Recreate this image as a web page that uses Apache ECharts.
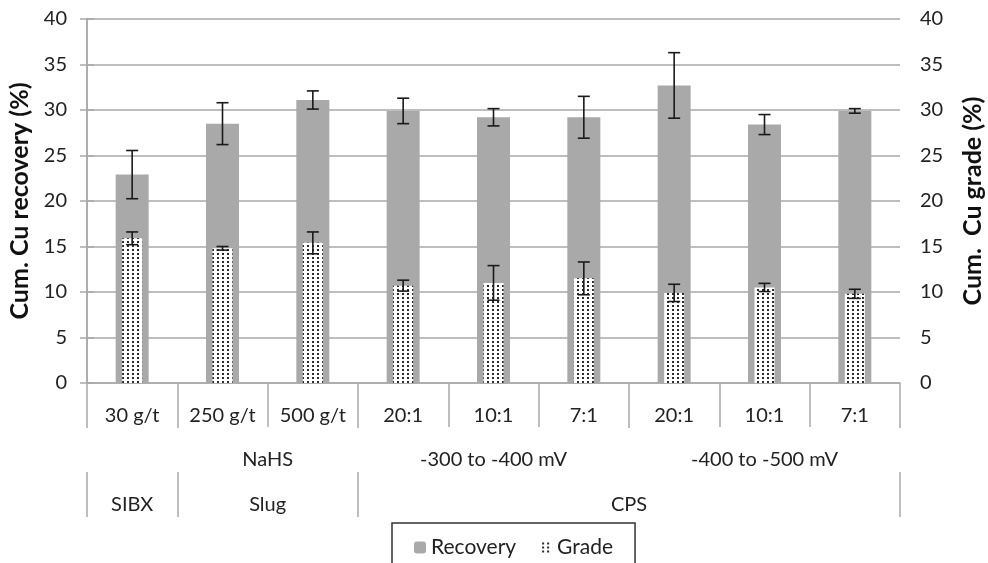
<!DOCTYPE html>
<html lang="en">
<head>
<meta charset="UTF-8">
<title>Cum. Cu recovery and grade</title>
<script src="https://cdn.jsdelivr.net/npm/echarts@6/dist/echarts.min.js"></script>
<style>
    html, body { margin: 0; padding: 0; background: #fff; }
    #main { width: 988px; height: 563px; }
</style>
</head>
<body>
<div id="main"></div>
<script>
    // data
    var categories = ['30 g/t', '250 g/t', '500 g/t', '20:1', '10:1', '7:1', '20:1', '10:1', '7:1'];
    var recovery = [22.9, 28.5, 31.1, 29.9, 29.2, 29.2, 32.7, 28.4, 29.9];
    var recoveryErr = [2.65, 2.3, 1.0, 1.4, 0.95, 2.3, 3.6, 1.1, 0.25];
    var grade = [15.9, 14.8, 15.4, 10.7, 11.0, 11.5, 9.9, 10.5, 9.8];
    var gradeErr = [0.7, 0.2, 1.2, 0.6, 1.9, 1.8, 0.95, 0.45, 0.5];
    // label rows under the categories: [label, first index, last index]
    var midGroups = [['', 0, 0], ['NaHS', 1, 2], ['-300 to -400 mV', 3, 5], ['-400 to -500 mV', 6, 8]];
    var topGroups = [['SIBX', 0, 0], ['Slug', 1, 2], ['CPS', 3, 8]];

    var FONT = 'Lato';
    var GRID_COLOR = '#a9a9a9';
    var TEXT_COLOR = '#222';

    function bounds(groups) {
        var b = groups.map(function (g) { return g[1]; });
        b.push(groups[groups.length - 1][2] + 1);
        return b;
    }
    function centers(groups) {
        return groups.map(function (g) { return (g[1] + g[2] + 1) / 2; });
    }
    function groupLabel(groups) {
        return function (v) {
            for (var i = 0; i < groups.length; i++) {
                if (Math.abs((groups[i][1] + groups[i][2] + 1) / 2 - v) < 1e-6) return groups[i][0];
            }
            return '';
        };
    }
    function errData(vals, errs) {
        return vals.map(function (v, i) { return [i, v - errs[i], v + errs[i]]; });
    }

    // dotted fill for the grade bars
    function dotPattern() {
        var c = document.createElement('canvas');
        c.width = 5;
        c.height = 4;
        var ctx = c.getContext('2d');
        ctx.fillStyle = '#fff';
        ctx.fillRect(0, 0, 5, 4);
        ctx.fillStyle = '#2a2a2a';
        ctx.fillRect(2, 1, 2, 2);
        return c;
    }

    function renderErr(params, api) {
        var x = api.value(0);
        var lo = api.coord([x, api.value(1)]);
        var hi = api.coord([x, api.value(2)]);
        var half = 6;
        var style = {stroke: '#1a1a1a', lineWidth: 1.6};
        return {
            type: 'group',
            children: [
                {type: 'line', shape: {x1: hi[0], y1: hi[1], x2: lo[0], y2: lo[1]}, style: style},
                {type: 'line', shape: {x1: hi[0] - half, y1: hi[1], x2: hi[0] + half, y2: hi[1]}, style: style},
                {type: 'line', shape: {x1: lo[0] - half, y1: lo[1], x2: lo[0] + half, y2: lo[1]}, style: style}
            ]
        };
    }

    function groupAxis(groups, offset) {
        return {
            type: 'value',
            position: 'bottom',
            offset: offset,
            min: 0,
            max: categories.length,
            axisLine: {show: false},
            splitLine: {show: false},
            axisTick: {
                show: true,
                length: 45,
                customValues: bounds(groups),
                lineStyle: {color: GRID_COLOR, width: 1.5}
            },
            axisLabel: {
                customValues: centers(groups),
                formatter: groupLabel(groups),
                margin: 23,
                fontFamily: FONT,
                fontSize: 20,
                color: TEXT_COLOR
            }
        };
    }

    var valueAxisBase = {
        type: 'value',
        min: 0,
        max: 40,
        interval: 5,
        nameLocation: 'middle',
        nameRotate: 90,
        nameTextStyle: {fontFamily: FONT, fontSize: 25, fontWeight: 'bold', color: '#111'},
        axisLine: {show: true, lineStyle: {color: GRID_COLOR, width: 1.5}},
        axisTick: {show: true, length: 7, lineStyle: {color: GRID_COLOR, width: 1.5}},
        axisLabel: {fontFamily: FONT, fontSize: 20, color: TEXT_COLOR, margin: 20}
    };

    var option = {
        animation: false,
        backgroundColor: '#fff',
        grid: {left: 87, right: 88, top: 19, bottom: 180, containLabel: false, outerBoundsMode: 'none'},
        legend: {
            data: ['Recovery', 'Grade'],
            left: 392,
            top: 523,
            width: 235,
            padding: [14, 22, 30, 22],
            itemGap: 24,
            itemWidth: 12,
            itemHeight: 12,
            borderColor: '#333',
            borderWidth: 1.5,
            textStyle: {fontFamily: FONT, fontSize: 21, color: TEXT_COLOR}
        },
        xAxis: [
            {
                type: 'category',
                data: categories,
                position: 'bottom',
                axisLine: {show: true, lineStyle: {color: GRID_COLOR, width: 1.5}},
                axisTick: {show: true, interval: 0, length: 44, lineStyle: {color: GRID_COLOR, width: 1.5}},
                axisLabel: {interval: 0, margin: 23, fontFamily: FONT, fontSize: 20, color: TEXT_COLOR}
            },
            groupAxis(midGroups, 44),
            groupAxis(topGroups, 89),
            {
                // hidden copy of the categories so the grade bars sit centred on their own
                type: 'category',
                data: categories,
                show: false
            }
        ],
        yAxis: [
            Object.assign({}, valueAxisBase, {
                name: 'Cum. Cu recovery (%)',
                position: 'left',
                nameGap: 54,
                splitLine: {show: true, lineStyle: {color: GRID_COLOR, width: 1.5}}
            }),
            Object.assign({}, valueAxisBase, {
                name: 'Cum.  Cu grade (%)',
                position: 'right',
                nameGap: 60,
                splitLine: {show: false}
            })
        ],
        series: [
            {
                name: 'Recovery',
                type: 'bar',
                xAxisIndex: 0,
                yAxisIndex: 0,
                barWidth: 33,
                itemStyle: {color: '#a9a9a9'},
                data: recovery
            },
            {
                type: 'custom',
                xAxisIndex: 0,
                yAxisIndex: 0,
                renderItem: renderErr,
                data: errData(recovery, recoveryErr),
                z: 5
            },
            {
                name: 'Grade',
                type: 'bar',
                xAxisIndex: 3,
                yAxisIndex: 1,
                barWidth: 20,
                itemStyle: {color: {image: dotPattern(), repeat: 'repeat'}},
                data: grade,
                z: 3
            },
            {
                type: 'custom',
                xAxisIndex: 0,
                yAxisIndex: 1,
                renderItem: renderErr,
                data: errData(grade, gradeErr),
                z: 6
            }
        ]
    };

    var myChart = echarts.init(document.getElementById('main'));
    myChart.setOption(option);
</script>
</body>
</html>
